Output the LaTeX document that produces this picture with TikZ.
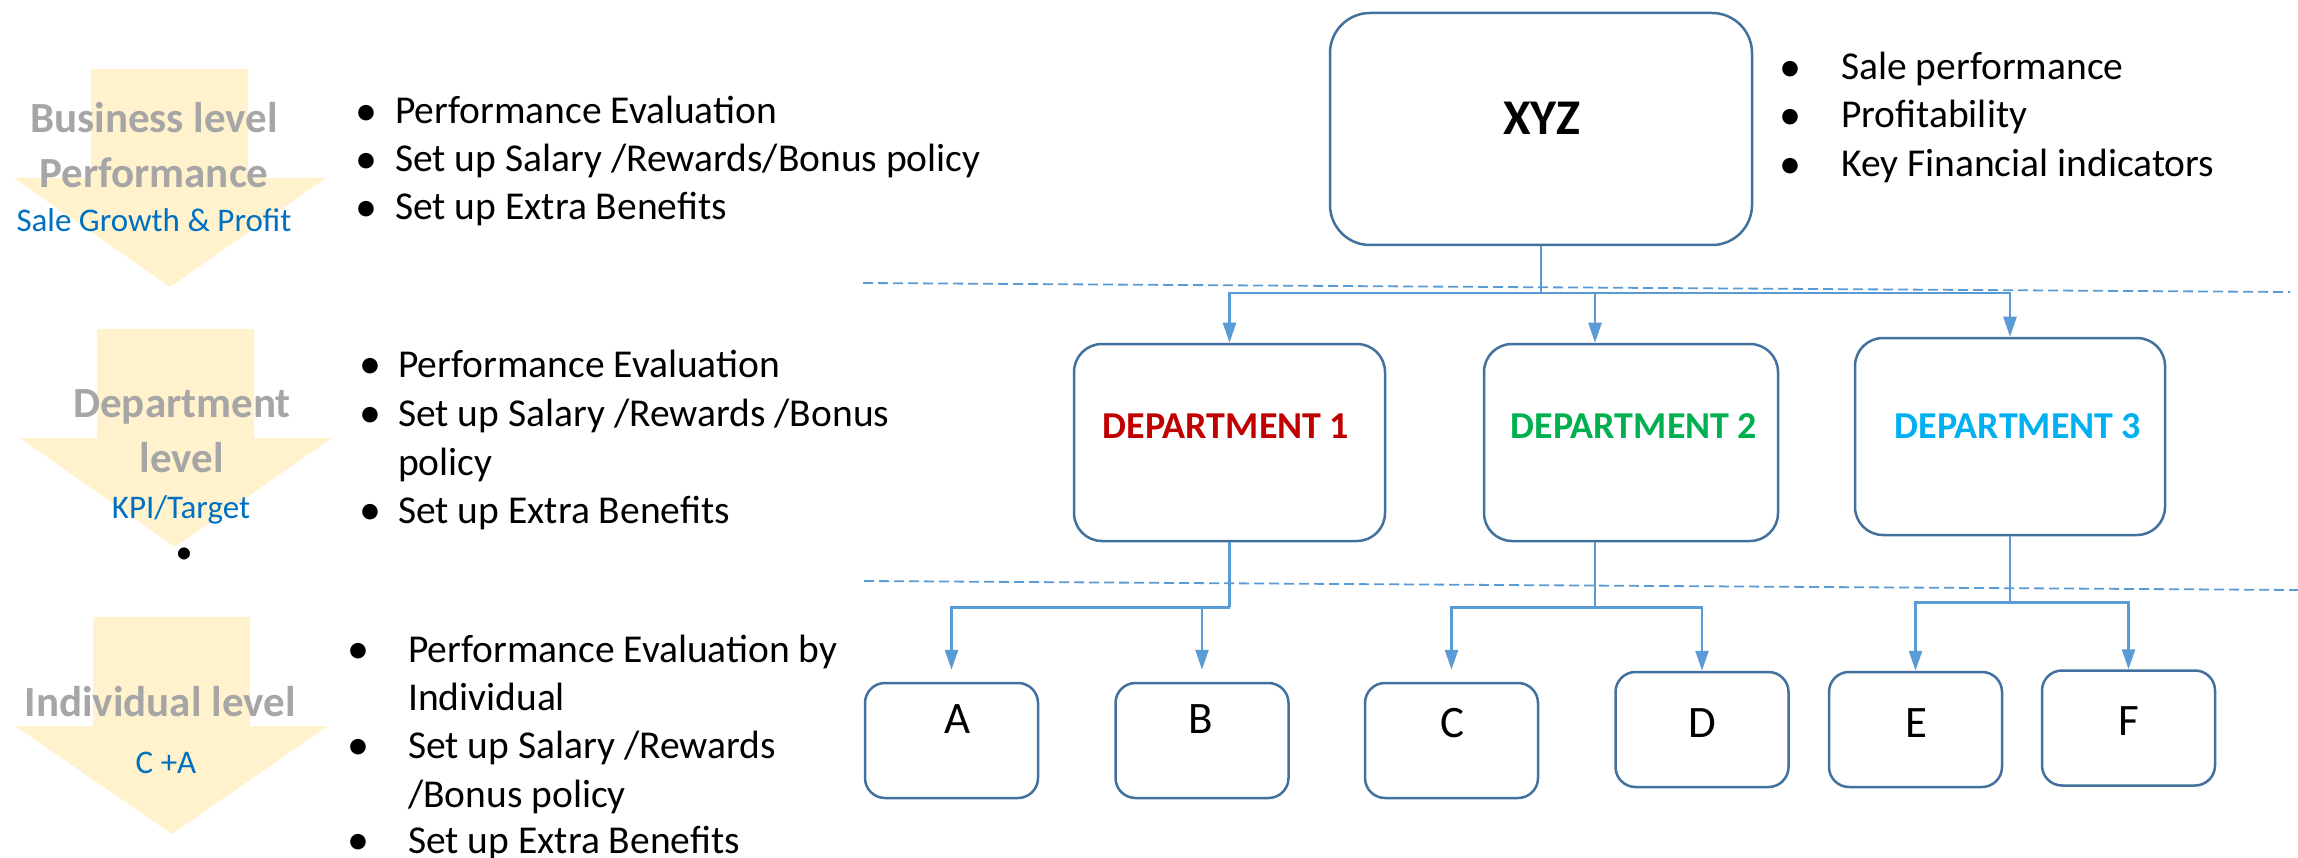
\documentclass[tikz,border=0pt]{standalone}
\usepackage{fontspec}
\setmainfont{Carlito}
\usetikzlibrary{arrows.meta,calc}

\definecolor{linkblue}{HTML}{5B9BD5}
\definecolor{boxblue}{HTML}{41719C}
\definecolor{levelfill}{HTML}{FFF2CC}
\definecolor{levelgray}{HTML}{A6A6A6}
\definecolor{subblue}{HTML}{0070C0}
\definecolor{deptred}{HTML}{C00000}
\definecolor{deptgreen}{HTML}{00B050}
\definecolor{deptcyan}{HTML}{00B0F0}

\tikzset{
  orgbox/.style={draw=boxblue, line width=2.5pt, fill=white, inner sep=0pt},
  topbox/.style={orgbox, rounded corners=40pt, minimum width=422pt, minimum height=232pt},
  deptbox/.style={orgbox, rounded corners=28pt, minimum height=197pt},
  leafbox/.style={orgbox, rounded corners=20pt, minimum width=173pt, minimum height=115pt},
  link/.style={draw=linkblue, line width=2.5pt},
  linkarrow/.style={link, -{Triangle[length=20pt,width=13pt]}},
  separator/.style={draw=linkblue, line width=1.8pt, dash pattern=on 10pt off 5pt},
  levelarrow/.style={fill=levelfill},
  label/.style={inner sep=0pt, anchor=base},
  itemtext/.style={inner sep=0pt, anchor=base west, font=\fontsize{39.5}{46}\selectfont},
  itemdot/.style={inner sep=0pt, anchor=base, yshift=-1.5pt, font=\fontsize{44}{50}\selectfont},
  levelname/.style={label, text=levelgray, font=\fontsize{43}{50}\selectfont\bfseries},
  levelnote/.style={label, text=subblue, font=\fontsize{33}{40}\selectfont},
  depttext/.style={label, font=\fontsize{38}{44}\selectfont\bfseries},
  leaftext/.style={label, font=\fontsize{45}{52}\selectfont},
}

\begin{document}
\begin{tikzpicture}[x=1pt,y=-1pt]
\clip (0,0) rectangle (2298,858);
\fill[white] (0,0) rectangle (2298,858);

% level arrows on the left
\fill[levelarrow] (91,69) -- (248,69) -- (248,178) -- (326,178) -- (170,287)
  -- (14,178) -- (91,178) -- cycle;
\fill[levelarrow] (97,329) -- (254,329) -- (254,438) -- (332,438) -- (175,547)
  -- (20,438) -- (97,438) -- cycle;
\fill[levelarrow] (93,617) -- (250,617) -- (250,726) -- (328,726) -- (172,834)
  -- (15,726) -- (93,726) -- cycle;

\node[levelname] (bus1) at (154,133) {Business level};
\node[levelname] (bus2) at (154,188) {Performance};
\node[levelnote] (bus3) at (154,232) {Sale Growth \& Profit};

\node[levelname] (dep1) at (182,417) {Department};
\node[levelname] (dep2) at (182,472) {level};
\node[levelnote] (dep3) at (181,518) {KPI/Target};
\node[label, font=\fontsize{34}{40}\selectfont] (dep4) at (184,563) {•};

\node[levelname] (ind1) at (160,716) {Individual level};
\node[levelnote] (ind2) at (166,773) {C +A};

% business level list
\node[itemdot] (b1d) at (366,124) {•};
\node[itemtext] (b1) at (395,124) {Performance Evaluation};
\node[itemdot] (b2d) at (366,172) {•};
\node[itemtext] (b2) at (395,172) {Set up Salary /Rewards/Bonus policy};
\node[itemdot] (b3d) at (366,220) {•};
\node[itemtext] (b3) at (395,220) {Set up Extra Benefits};

% department level list
\node[itemdot] (c1d) at (370,377) {•};
\node[itemtext] (c1) at (398,377) {Performance Evaluation};
\node[itemdot] (c2d) at (370,426) {•};
\node[itemtext] (c2) at (398,426) {Set up Salary /Rewards /Bonus};
\node[itemtext] (c3) at (398,475) {policy};
\node[itemdot] (c4d) at (370,523) {•};
\node[itemtext] (c4) at (398,523) {Set up Extra Benefits};

% individual level list
\node[itemdot] (i1d) at (358,662) {•};
\node[itemtext] (i1) at (408,662) {Performance Evaluation by};
\node[itemtext] (i2) at (408,710) {Individual};
\node[itemdot] (i3d) at (358,758) {•};
\node[itemtext] (i3) at (408,758) {Set up Salary /Rewards};
\node[itemtext] (i4) at (408,807) {/Bonus policy};
\node[itemdot] (i5d) at (358,853) {•};
\node[itemtext] (i5) at (408,853) {Set up Extra Benefits};

% company indicators
\node[itemdot] (k1d) at (1790,80) {•};
\node[itemtext] (k1) at (1841,80) {Sale performance};
\node[itemdot] (k2d) at (1790,128) {•};
\node[itemtext] (k2) at (1841,128) {Profitability};
\node[itemdot] (k3d) at (1790,177) {•};
\node[itemtext] (k3) at (1841,177) {Key Financial indicators};

% level separators
\draw[separator] (863,283) -- (2290,292);
\draw[separator] (864,581) -- (2298,590);

% organisation chart
\node[topbox] (xyz) at (1541,129) {};
\node[label, font=\fontsize{50}{58}\selectfont\bfseries] (xyzt) at (1542,135) {XYZ};

\node[deptbox, minimum width=311pt] (d1) at (1229.5,442.5) {};
\node[deptbox, minimum width=294pt] (d2) at (1631,442.5) {};
\node[deptbox, minimum width=310pt] (d3) at (2010,436.5) {};
\node[depttext, text=deptred] (d1t) at (1226,438) {DEPARTMENT 1};
\node[depttext, text=deptgreen] (d2t) at (1634,438) {DEPARTMENT 2};
\node[depttext, text=deptcyan] (d3t) at (2018,438) {DEPARTMENT 3};

\node[leafbox] (a) at (951.5,740.5) {};
\node[leafbox] (b) at (1202,740.5) {};
\node[leafbox] (c) at (1451.5,740.5) {};
\node[leafbox] (d) at (1702,729.5) {};
\node[leafbox] (e) at (1915.5,729.5) {};
\node[leafbox] (f) at (2128.5,728) {};
\node[leaftext] (at) at (958,733) {A};
\node[leaftext] (bt) at (1201,733) {B};
\node[leaftext] (ct) at (1452,737) {C};
\node[leaftext] (dt) at (1702,737) {D};
\node[leaftext] (et) at (1916,737) {E};
\node[leaftext] (ft) at (2129,735) {F};

% connectors
\draw[link] (xyz.south) -- ++(0,47) coordinate (bus);
\draw[linkarrow] (bus) -| (d1.north);
\draw[linkarrow] (bus) -| ([xshift=-36pt]d2.north);
\draw[linkarrow] (bus) -| (d3.north);

\draw[link] (d1.south) -- ++(0,65) coordinate (j1);
\draw[linkarrow, shorten >=12pt] (j1) -| (a.north);
\draw[linkarrow, shorten >=12pt] (j1) -| (b.north);

\draw[link] ([xshift=-36pt]d2.south) -- ++(0,65) coordinate (j2);
\draw[linkarrow, shorten >=12pt] (j2) -| (c.north);
\draw[linkarrow] (j2) -| (d.north);

\draw[link] (d3.south) -- ++(0,66) coordinate (j3);
\draw[linkarrow] (j3) -| (e.north);
\draw[linkarrow] (j3) -| (f.north);
\end{tikzpicture}
\end{document}
